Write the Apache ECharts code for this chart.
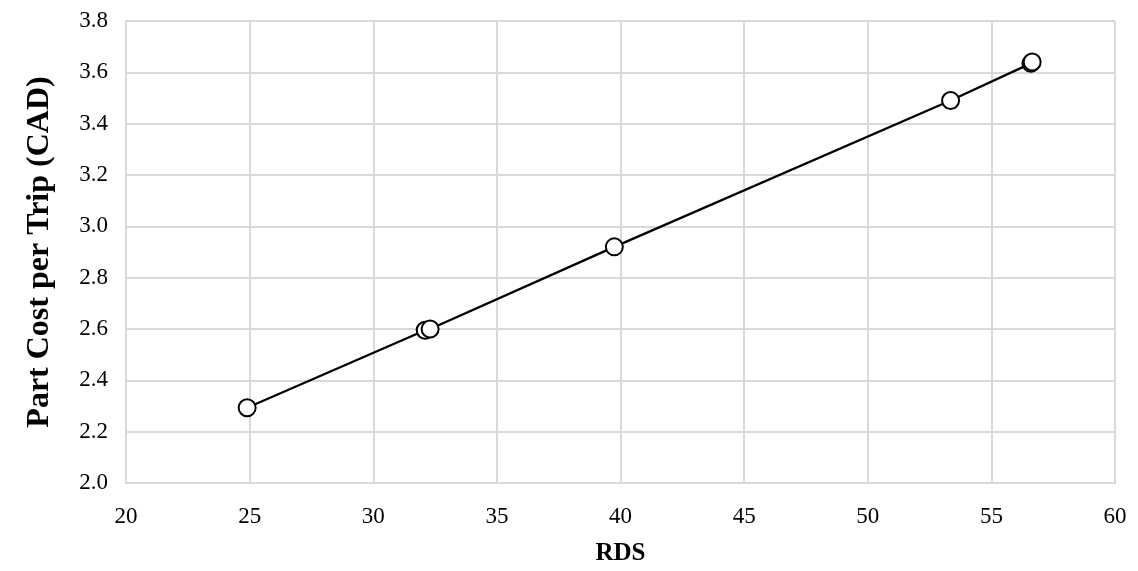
<!DOCTYPE html>
<html>
<head>
<meta charset="utf-8">
<script src="https://cdn.jsdelivr.net/npm/echarts@6/dist/echarts.min.js"></script>
<style>
html,body{margin:0;padding:0;background:#fff;}
#mychart{width:1138px;height:571px;}
</style>
</head>
<body>
<div id="mychart"></div>
<script>
// 数据
const rds = [24.9, 32.1, 32.3, 39.75, 53.35, 56.6, 56.65];
const partCost = [2.293, 2.595, 2.60, 2.92, 3.49, 3.635, 3.64];

const font = '"Liberation Serif", "Times New Roman", serif';
const pts = rds.map((x, i) => [x, partCost[i]]);

let myEcharts = echarts.init(document.getElementById('mychart'));
let option = {
    animation: false,
    grid: {
        left: 126,
        right: 23,
        top: 21,
        bottom: 88
    },
    xAxis: {
        type: 'value',
        min: 20,
        max: 60,
        interval: 5,
        name: 'RDS',
        nameLocation: 'middle',
        nameGap: 58,
        nameTextStyle: { fontFamily: font, fontWeight: 'bold', fontSize: 25, color: '#000' },
        axisLine: { lineStyle: { color: '#d9d9d9', width: 2 } },
        axisTick: { show: false },
        axisLabel: { fontFamily: font, fontSize: 23, color: '#000', margin: 22 },
        splitLine: { show: true, lineStyle: { color: '#d9d9d9', width: 2 } }
    },
    yAxis: {
        type: 'value',
        min: 2.0,
        max: 3.8,
        interval: 0.2,
        name: 'Part Cost per Trip (CAD)',
        nameLocation: 'middle',
        nameGap: 70,
        nameTextStyle: { fontFamily: font, fontWeight: 'bold', fontSize: 32, color: '#000' },
        axisLine: { show: true, lineStyle: { color: '#d9d9d9', width: 2 } },
        axisTick: { show: false },
        axisLabel: {
            fontFamily: font, fontSize: 23, color: '#000', margin: 18,
            formatter: v => v.toFixed(1)
        },
        splitLine: { show: true, lineStyle: { color: '#d9d9d9', width: 2 } }
    },
    series: [
        {
            type: 'line',
            data: pts,
            symbol: 'circle',
            symbolSize: 17,
            itemStyle: { color: '#fff', borderColor: '#000', borderWidth: 2 },
            lineStyle: { color: '#000', width: 2.3 },
            z: 3
        }
    ]
};
myEcharts.setOption(option);
</script>
</body>
</html>
